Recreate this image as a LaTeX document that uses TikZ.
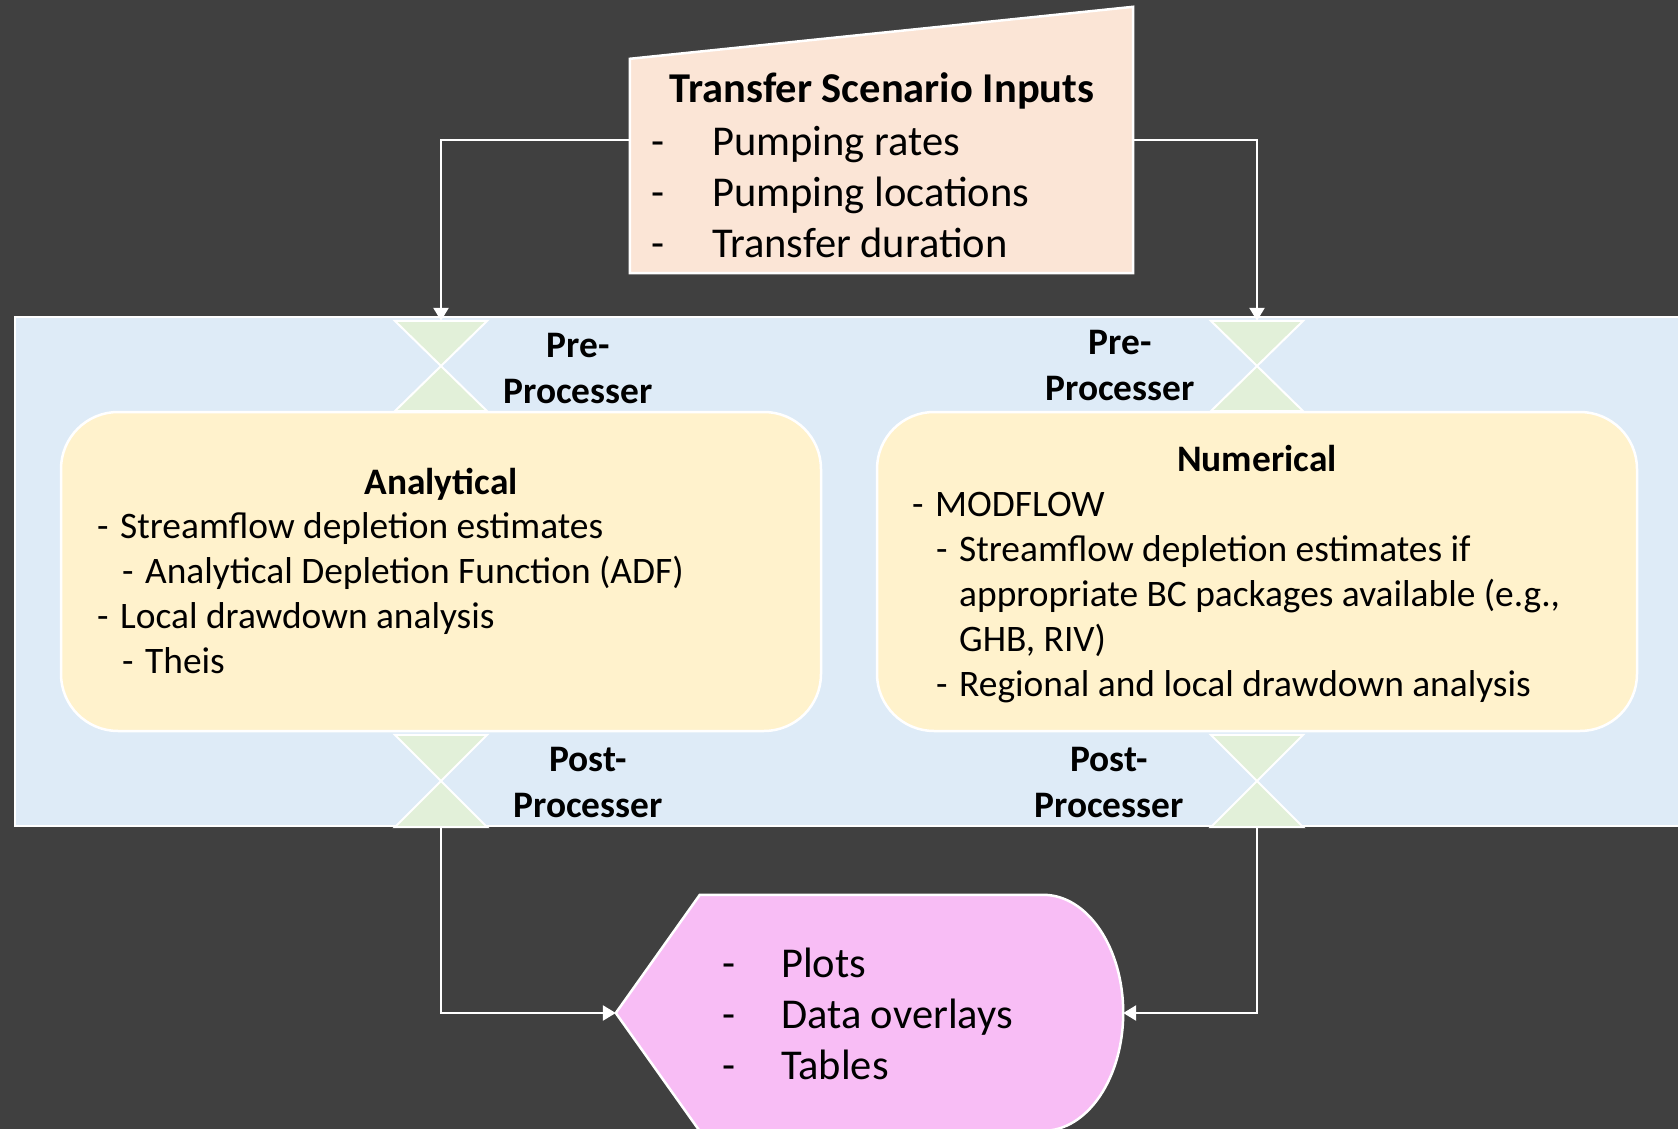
\documentclass[tikz,border=0pt]{standalone}
\usepackage{fontspec}
\setmainfont{Carlito}
\usetikzlibrary{arrows.meta}
\definecolor{bgdark}{HTML}{404040}
\definecolor{inputfill}{HTML}{FBE5D6}
\definecolor{panelblue}{HTML}{DEEBF7}
\definecolor{hgreen}{HTML}{E2F0D9}
\definecolor{boxyellow}{HTML}{FFF2CC}
\definecolor{outpink}{HTML}{F8BDF5}
\begin{document}
\begin{tikzpicture}[x=1pt,y=-1pt,
  frame/.style={rectangle, inner sep=0pt, draw=none},
  hourglass/.style={frame, minimum width=92pt, minimum height=90pt},
  hgshape/.style={fill=hgreen, draw=white, line width=2pt, line join=miter},
  modelbox/.style={frame, minimum width=760pt, minimum height=319pt, fill=boxyellow,
    draw=white, line width=2.5pt, rounded corners=57pt},
  outline/.style={draw=white, line width=2.5pt},
  conn/.style={draw=white, line width=2.5pt, -{Triangle[width=15pt,length=13pt]}},
  % multi-line texts are placed by the baseline of their last line
  body/.style={inner sep=0pt, text=black, align=left, anchor=base west,
    font=\fontsize{37.4}{45}\selectfont},
  bigbody/.style={inner sep=0pt, text=black, align=left, anchor=base west,
    font=\fontsize{42.5}{51}\selectfont},
  heading/.style={inner sep=0pt, text=black, align=center, anchor=base,
    font=\fontsize{37.4}{46}\selectfont\bfseries},
]
\useasboundingbox (0,0) rectangle (1678,1129);
\clip (0,0) rectangle (1678,1129);
\fill[bgdark] (0,0) rectangle (1678,1129);

% model panel
\draw[fill=panelblue, draw=white, line width=2pt] (15,317) rectangle (1700,826);

% pre- and post-processor collate symbols
\node[hourglass] (preL)  at (441,366) {};
\node[hourglass] (preR)  at (1257,366) {};
\node[hourglass, minimum height=92pt] (postL) at (441,781) {};
\node[hourglass, minimum height=92pt] (postR) at (1257,781) {};
\foreach \h in {preL,preR,postL,postR}
  \draw[hgshape] (\h.north west) -- (\h.north east) -- (\h.south west) -- (\h.south east) -- cycle;

% model boxes
\node[modelbox] (ana) at (441,571.5) {};
\node[modelbox] (num) at (1257,571.5) {};

% scenario inputs (manual input shape)
\node[frame, minimum width=503pt, minimum height=266pt] (inputs) at (881.5,140) {};
\draw[outline, fill=inputfill] (inputs.south west) -- (inputs.south east)
  -- (inputs.north east) -- ([yshift=-52pt]inputs.north west) -- cycle;

% outputs (display shape)
\node[frame, minimum width=507pt, minimum height=236pt] (out) at (869.5,1013) {};
\draw[outline, fill=outpink] (out.west) -- ([xshift=84pt]out.north west)
  -- ([xshift=-80pt]out.north east)
  arc[start angle=90, end angle=-90, x radius=80pt, y radius=118pt]
  -- ([xshift=84pt]out.south west) -- cycle;

% connectors
\draw[conn] (inputs.west) -| (preL.north);
\draw[conn] (inputs.east) -| (preR.north);
\draw[conn] (postL.south) |- (out.west);
\draw[conn] (postR.south) |- (out.east);

% texts
\node[inner sep=0pt, anchor=base, font=\fontsize{42.5}{51}\selectfont\bfseries] (inT) at (882,103) {Transfer Scenario Inputs};
\node[bigbody] (inL) at (651,257) {\makebox[61pt][l]{-}Pumping rates\\
  \makebox[61pt][l]{-}Pumping locations\\
  \makebox[61pt][l]{-}Transfer duration};

\node[heading] (preLT) at (578,403) {Pre-\\Processer};
\node[heading] (preRT) at (1120,400) {Pre-\\Processer};
\node[heading] (postLT) at (588,817) {Post-\\Processer};
\node[heading] (postRT) at (1109,817) {Post-\\Processer};

\node[heading] (anaT) at (441,494) {Analytical};
\node[body] (anaL) at (97,673) {\makebox[23pt][l]{-}Streamflow depletion estimates\\
  \hspace*{25pt}\makebox[23pt][l]{-}Analytical Depletion Function (ADF)\\
  \makebox[23pt][l]{-}Local drawdown analysis\\
  \hspace*{25pt}\makebox[23pt][l]{-}Theis};

\node[heading] (numT) at (1257,471) {Numerical};
\node[body] (numL) at (912,696) {\makebox[23pt][l]{-}MODFLOW\\
  \hspace*{24pt}\makebox[23pt][l]{-}Streamflow depletion estimates if\\
  \hspace*{47pt}appropriate BC packages available (e.g.,\\
  \hspace*{47pt}GHB, RIV)\\
  \hspace*{24pt}\makebox[23pt][l]{-}Regional and local drawdown analysis};

\node[bigbody] (outL) at (722,1079) {\makebox[59pt][l]{-}Plots\\
  \makebox[59pt][l]{-}Data overlays\\
  \makebox[59pt][l]{-}Tables};
\end{tikzpicture}
\end{document}
